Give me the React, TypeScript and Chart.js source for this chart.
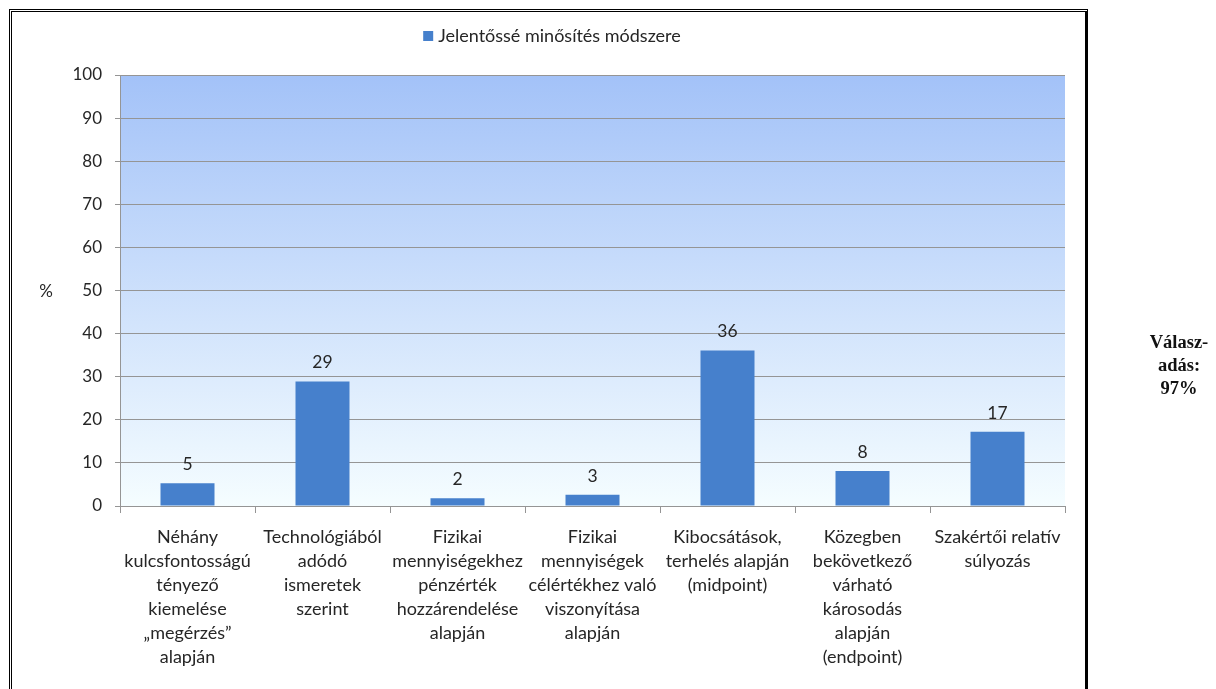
import React, { useEffect, useRef } from "react";
import { Chart, registerables } from "chart.js";

Chart.register(...registerables);

const categories: string[][] = [
  ["Néhány", "kulcsfontosságú", "tényező", "kiemelése", "„megérzés”", "alapján"],
  ["Technológiából", "adódó", "ismeretek", "szerint"],
  ["Fizikai", "mennyiségekhez", "pénzérték", "hozzárendelése", "alapján"],
  ["Fizikai", "mennyiségek", "célértékhez való", "viszonyítása", "alapján"],
  ["Kibocsátások,", "terhelés alapján", "(midpoint)"],
  ["Közegben", "bekövetkező", "várható", "károsodás", "alapján", "(endpoint)"],
  ["Szakértői relatív", "súlyozás"],
];
const values: number[] = [5.3, 28.9, 1.8, 2.6, 36.1, 8.1, 17.2];
const valueLabels: string[] = ["5", "29", "2", "3", "36", "8", "17"];
const seriesName = "Jelentőssé minősítés módszere";
const yMin = 0;
const yMax = 100;
const yStep = 10;
const yTitle = "%";
const responseNote: string[] = ["Válasz-", "adás:", "97%"];

const FONT = "Lato, 'Noto Sans', sans-serif";
const BAR = "#4680cc";
const GRID = "#959595";
const TEXT = "#262626";

export default function App() {
  const ref = useRef<HTMLCanvasElement | null>(null);

  useEffect(() => {
    const canvas = ref.current;
    if (!canvas) return;

    const bgPlugin = {
      id: "bgGradient",
      beforeDraw(chart: any) {
        const { ctx, chartArea } = chart;
        const g = ctx.createLinearGradient(0, chartArea.top, 0, chartArea.bottom);
        g.addColorStop(0, "#a3c2f8");
        g.addColorStop(1, "#f5fdff");
        ctx.save();
        ctx.fillStyle = g;
        ctx.fillRect(chartArea.left, chartArea.top, chartArea.right - chartArea.left, chartArea.bottom - chartArea.top);
        ctx.restore();
      },
    };

    const labelPlugin = {
      id: "valueLabels",
      afterDatasetsDraw(chart: any) {
        const { ctx } = chart;
        const meta = chart.getDatasetMeta(0);
        ctx.save();
        ctx.font = `17.5px ${FONT}`;
        ctx.fillStyle = TEXT;
        ctx.textAlign = "center";
        ctx.textBaseline = "alphabetic";
        meta.data.forEach((el: any, i: number) => {
          ctx.fillText(valueLabels[i], el.x, el.y - 13);
        });
        ctx.restore();
      },
    };

    const legendPlugin = {
      id: "customLegend",
      afterDraw(chart: any) {
        const { ctx, chartArea } = chart;
        ctx.save();
        ctx.font = `18px ${FONT}`;
        const tw = ctx.measureText(seriesName).width;
        const total = 10 + 5 + tw;
        const cx = 552;
        const x0 = cx - total / 2;
        const cy = 36;
        ctx.fillStyle = BAR;
        ctx.fillRect(x0, cy - 5, 10, 10);
        ctx.fillStyle = TEXT;
        ctx.textAlign = "left";
        ctx.textBaseline = "middle";
        ctx.fillText(seriesName, x0 + 15, cy);
        // y title
        ctx.font = `17px ${FONT}`;
        ctx.textAlign = "center";
        ctx.fillText(yTitle, 46, (chartArea.top + chartArea.bottom) / 2 + 1);
        ctx.restore();
      },
    };

    const chart = new Chart(canvas, {
      type: "bar",
      data: {
        labels: categories,
        datasets: [
          {
            label: seriesName,
            data: values,
            backgroundColor: BAR,
            borderWidth: 0,
            barPercentage: 0.4,
            categoryPercentage: 1,
          },
        ],
      },
      options: {
        responsive: false,
        animation: false,
        devicePixelRatio: 1,
        layout: { padding: { left: 0, top: 75, right: 151, bottom: 0 } },
        plugins: {
          legend: { display: false },
          tooltip: { enabled: false },
          title: { display: false },
        },
        scales: {
          x: {
            offset: true,
            grid: {
              display: true,
              offset: true,
              drawOnChartArea: false,
              drawTicks: true,
              tickLength: 7,
              color: GRID,
            },
            border: { display: true, color: GRID },
            ticks: {
              autoSkip: false,
              maxRotation: 0,
              minRotation: 0,
              padding: 12,
              color: TEXT,
              font: { family: FONT, size: 18, lineHeight: 1.333 },
            },
            afterFit(scale: any) {
              scale.height = 183;
            },
          },
          y: {
            min: yMin,
            max: yMax,
            ticks: {
              stepSize: yStep,
              padding: 13,
              color: TEXT,
              font: { family: FONT, size: 17 },
            },
            grid: {
              color: GRID,
              tickLength: 5,
              drawTicks: true,
            },
            border: { display: true, color: GRID },
            afterFit(scale: any) {
              scale.width = 120;
            },
          },
        },
      },
      plugins: [bgPlugin, labelPlugin, legendPlugin],
    });

    return () => chart.destroy();
  }, []);

  return (
    <div style={{ position: "absolute", left: 0, top: 0, width: 1216, height: 689, overflow: "hidden", background: "#fff" }}>
      <div
        style={{
          position: "absolute",
          left: 9,
          top: 9,
          width: 1073,
          height: 720,
          border: "3px double #000",
          borderRightWidth: 3,
          borderRightStyle: "solid",
          boxSizing: "content-box",
        }}
      />
      <canvas ref={ref} width={1216} height={689} style={{ position: "absolute", left: 0, top: 0, width: 1216, height: 689 }} />
      <div
        style={{
          position: "absolute",
          left: 1133,
          top: 331,
          width: 92,
          textAlign: "center",
          fontFamily: "'Liberation Serif', 'DejaVu Serif', serif",
          fontWeight: "bold",
          fontSize: 18.5,
          lineHeight: "23px",
          color: "#111",
        }}
      >
        {responseNote.map((t, i) => (
          <div key={i}>{t}</div>
        ))}
      </div>
    </div>
  );
}
